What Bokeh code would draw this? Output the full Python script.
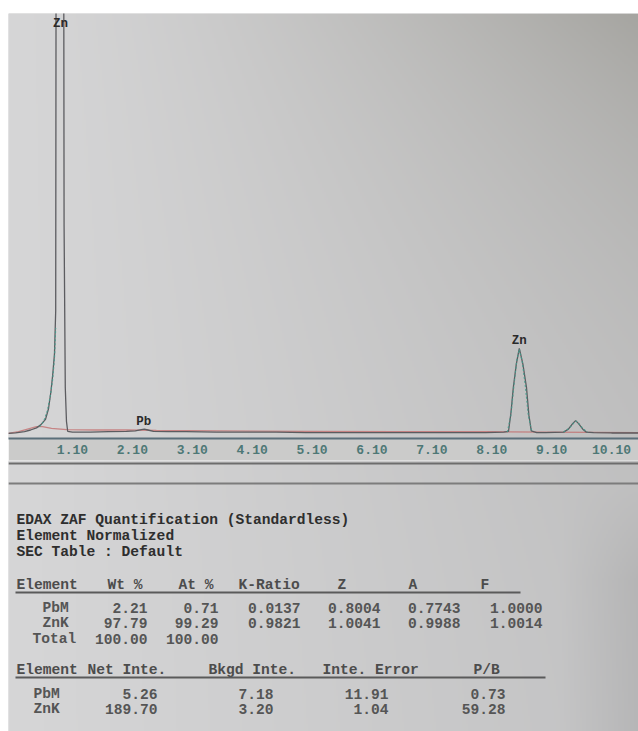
import numpy as np
from bokeh.plotting import figure
from bokeh.layouts import column, row
from bokeh.models import Range1d, FixedTicker, PrintfTickFormatter, Spacer
from bokeh.core.properties import value
from bokeh.embed import file_html
from bokeh.resources import INLINE

# ---------------- spectrum data ----------------
energy_kev = [0.03, 0.15, 0.30, 0.40, 0.50, 0.57, 0.65, 0.70, 0.74, 0.77, 0.80, 0.82,
              0.83, 0.95, 0.96, 0.98, 1.00, 1.02, 1.10, 1.40, 1.70, 2.00, 2.15, 2.25,
              2.30, 2.36, 2.45, 2.70, 3.00, 3.50, 4.00, 4.50, 5.00, 5.50, 6.00, 6.50,
              7.00, 7.50, 8.00, 8.30, 8.38, 8.42, 8.46, 8.51, 8.56, 8.62, 8.68, 8.72,
              8.76, 8.85, 9.00, 9.30, 9.38, 9.45, 9.50, 9.55, 9.62, 9.68, 9.80, 10.10, 10.55]
counts = [12, 13, 16, 20, 25, 32, 45, 70, 110, 150, 200, 300,
          1600, 1600, 500, 120, 40, 17, 15, 15, 16, 17, 18, 21,
          22, 20, 17, 16, 16, 15, 15, 15, 14, 14, 14, 14,
          14, 14, 14, 15, 17, 60, 120, 175, 212, 175, 120, 55,
          18, 14, 14, 15, 22, 35, 42, 35, 22, 15, 14, 13, 13]

bg_energy = [0.03, 0.20, 0.35, 0.50, 0.60, 0.75, 1.00, 1.50, 2.00, 2.50, 3.50, 5.00, 6.50, 8.00, 9.00, 10.55]
bg_counts = [12, 16, 22, 28, 28, 24, 21, 20, 20, 19, 18, 17, 16, 16, 15, 14]

fit_zn_l_e = [0.55, 0.62, 0.68, 0.73, 0.77, 0.80, 0.82]
fit_zn_l_c = [28, 40, 65, 100, 140, 190, 260]
fit_zn_ka_e = [8.36, 8.42, 8.47, 8.52, 8.56, 8.61, 8.66, 8.71, 8.77]
fit_zn_ka_c = [15, 55, 125, 185, 210, 180, 125, 55, 15]
fit_zn_kb_e = [9.30, 9.40, 9.47, 9.51, 9.56, 9.63, 9.70]
fit_zn_kb_c = [15, 25, 37, 41, 34, 22, 15]

peak_labels = ["Zn", "Pb", "Zn"]
peak_energy = [0.90, 2.29, 8.56]
peak_label_counts = [976, 40, 230]

tick_values = [1.10, 2.10, 3.10, 4.10, 5.10, 6.10, 7.10, 8.10, 9.10, 10.10]

# ---------------- quantification table ----------------
title_lines = ["EDAX ZAF Quantification (Standardless)", "Element Normalized", "SEC Table : Default"]
t1_headers = ["Element", "Wt %", "At %", "K-Ratio", "Z", "A", "F"]
t1_elements = ["PbM", "ZnK", "Total"]
wt_pct = [2.21, 97.79, 100.00]
at_pct = [0.71, 99.29, 100.00]
k_ratio = [0.0137, 0.9821]
z_corr = [0.8004, 1.0041]
a_corr = [0.7743, 0.9988]
f_corr = [1.0000, 1.0014]

t2_headers = ["Element", "Net Inte.", "Bkgd Inte.", "Inte. Error", "P/B"]
t2_elements = ["PbM", "ZnK"]
net_inte = [5.26, 189.70]
bkgd_inte = [7.18, 3.20]
inte_error = [11.91, 1.04]
p_b = [0.73, 59.28]

# ---------------- styling / layout ----------------
MONO = "Liberation Mono"
W = 630
LEFT_PAD = 8
FRAME_TOP, FRAME_BOT = 13, 438      # page y of the spectrum frame
P2_TOP, P2_BOT = 460, 731           # page y of the table panel


def gradient(px0, px1, py0, py1, nx, ny):
    xs = np.linspace(px0, px1, nx)
    ys = np.linspace(py1, py0, ny)   # row 0 = bottom
    X, Y = np.meshgrid(xs, ys)
    u = (X - 8) / 630.0
    base = 214 - 18 * u
    dark = 30 * u ** 1.5 * np.exp(-(Y - 13) / 230.0)
    dark2 = 12 * np.clip((X - 560) / 78.0, 0, 1) * np.clip((Y - 480) / 100.0, 0, 1)
    r = base - dark - dark2
    g = base - dark * 1.03 - dark2
    b = base - dark * 1.2 - dark2 + 1
    img = np.empty((ny, nx), dtype=np.uint32)
    v = img.view(dtype=np.uint8).reshape((ny, nx, 4))
    v[..., 0] = np.clip(r, 0, 255)
    v[..., 1] = np.clip(g, 0, 255)
    v[..., 2] = np.clip(b, 0, 255)
    v[..., 3] = 255
    return img


# ---------------- spectrum figure ----------------
p1 = figure(width=W, height=P2_TOP - FRAME_TOP, x_range=Range1d(0.032, 10.55),
            y_range=Range1d(0, 1000), output_backend="svg", toolbar_location=None,
            y_axis_location=None, min_border_left=0, min_border_right=0,
            min_border_top=0, min_border_bottom=P2_TOP - FRAME_BOT,
            border_fill_color="#cbcbca", background_fill_color="#cdcdcd")
p1.outline_line_color = None
p1.grid.visible = False

xr, yr = p1.x_range, p1.y_range
p1.image_rgba(image=[gradient(8, 638, FRAME_TOP, FRAME_BOT, 315, 213)],
              x=xr.start, y=yr.start, dw=xr.end - xr.start, dh=yr.end - yr.start)

p1.line(bg_energy, bg_counts, line_color="#c26a6a", line_width=1.3, line_alpha=0.75)
p1.line(energy_kev, counts, line_color="#5c5c60", line_width=1.3)
p1.multi_line([fit_zn_l_e, fit_zn_ka_e, fit_zn_kb_e], [fit_zn_l_c, fit_zn_ka_c, fit_zn_kb_c],
              line_color="#3f9c8c", line_width=1.2, line_dash="2 2", line_alpha=0.85)
p1.text(peak_energy, peak_label_counts, text=peak_labels, text_font=value(MONO),
        text_font_size="12.5px", text_font_style="bold", text_color="#2a2a2a",
        text_align="center", text_baseline="middle")

ax = p1.xaxis[0]
ax.ticker = FixedTicker(ticks=tick_values)
ax.formatter = PrintfTickFormatter(format="%.2f")
ax.major_tick_out = 0
ax.major_tick_in = 0
ax.minor_tick_out = 0
ax.minor_tick_in = 0
ax.axis_line_color = "#5b6f7a"
ax.axis_line_width = 2
ax.major_label_text_font = MONO
ax.major_label_text_font_size = "13px"
ax.major_label_text_font_style = "bold"
ax.major_label_text_color = "#4e7876"
ax.major_label_standoff = 6

# ---------------- table figure (page pixel coordinates, y negated) ----------------
p2 = figure(width=W, height=P2_BOT - P2_TOP, x_range=Range1d(8, 638),
            y_range=Range1d(-P2_BOT, -P2_TOP), output_backend="svg", toolbar_location=None,
            x_axis_location=None, y_axis_location=None, min_border=0,
            border_fill_color="#cdcdcd", background_fill_color="#cdcdcd")
p2.outline_line_color = None
p2.grid.visible = False
p2.image_rgba(image=[gradient(8, 638, P2_TOP, P2_BOT, 315, 136)],
              x=8, y=-P2_BOT, dw=W, dh=P2_BOT - P2_TOP)

# separator rules below the axis labels
p2.segment(x0=[8, 8], x1=[638, 638], y0=[-463, -483], y1=[-463, -483],
           line_color=["#6c6c6c", "#7c7c7c"], line_width=2)

FS = "14.6px"
TXT = dict(text_font=value(MONO), text_font_size=FS, text_font_style="bold",
           text_baseline="middle")

# title block
p2.text([16] * len(title_lines), [-519, -535, -551], text=title_lines,
        text_color="#2e2e2e", text_align="left", **TXT)

# table 1
h1_x = [16, 107, 178, 238, 337, 408, 480]
p2.text(h1_x, [-584] * len(h1_x), text=t1_headers, text_color="#4c4c4c", text_align="left", **TXT)
p2.segment(x0=[15], x1=[520], y0=[-592], y1=[-592], line_color="#5a5a5a", line_width=2)
row_y1 = [-607, -622, -638]
p2.text([42, 42, 32], row_y1, text=t1_elements, text_color="#555555", text_align="left", **TXT)
num_cols1 = [(wt_pct, "%.2f"), (at_pct, "%.2f"), (k_ratio, "%.4f"),
             (z_corr, "%.4f"), (a_corr, "%.4f"), (f_corr, "%.4f")]
right1 = [147, 218, 300, 380, 460, 542]
for (vals, fmt), rx in zip(num_cols1, right1):
    p2.text([rx] * len(vals), row_y1[:len(vals)], text=[fmt % v for v in vals],
            text_color="#555555", text_align="right", **TXT)

# table 2
h2_x = [16, 87, 208, 322, 473]
p2.text(h2_x, [-669] * len(h2_x), text=t2_headers, text_color="#4c4c4c", text_align="left", **TXT)
p2.segment(x0=[15], x1=[545], y0=[-677], y1=[-677], line_color="#5a5a5a", line_width=2)
row_y2 = [-693, -708]
p2.text([33, 33], row_y2, text=t2_elements, text_color="#555555", text_align="left", **TXT)
right2 = [157, 273, 388, 505]
for vals, rx in zip([net_inte, bkgd_inte, inte_error, p_b], right2):
    p2.text([rx] * len(vals), row_y2, text=["%.2f" % v for v in vals],
            text_color="#555555", text_align="right", **TXT)

layout = row(Spacer(width=LEFT_PAD, height=10),
             column(Spacer(width=W, height=FRAME_TOP), p1, p2))
open("out.html", "w").write(file_html(layout, INLINE))
